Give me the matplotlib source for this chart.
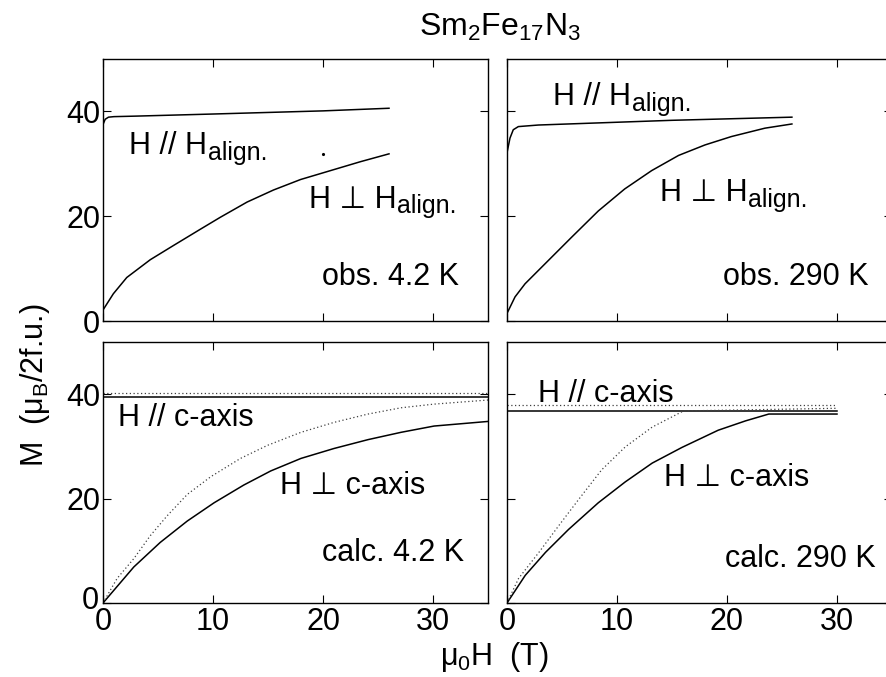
import matplotlib.pyplot as plt
from matplotlib.transforms import ScaledTranslation

plt.rcParams['font.family'] = ['Liberation Sans', 'DejaVu Sans']
plt.rcParams['mathtext.fontset'] = 'custom'
plt.rcParams['mathtext.rm'] = 'Liberation Sans'
plt.rcParams['mathtext.it'] = 'Liberation Sans:italic'

# --- values: field mu0H (T), moment M (muB/2f.u.) ---

# obs. 4.2 K
obs4_par_h = [0, 0.2, 0.5, 1.0, 3.0, 10.0, 20.0, 26.0]
obs4_par_m = [37.5, 38.5, 38.9, 39.0, 39.1, 39.5, 40.1, 40.6]
obs4_perp_h = [0, 0.94, 2.16, 4.3, 6.4, 8.84, 10.67, 13.1, 15.5, 17.96, 21.0, 23.4, 26.0]
obs4_perp_m = [2.1, 5.2, 8.3, 11.7, 14.4, 17.5, 19.8, 22.7, 25.0, 27.0, 28.9, 30.4, 31.9]
obs4_dot_h = [20.0]
obs4_dot_m = [31.8]

# obs. 290 K
obs290_par_h = [0, 0.27, 0.57, 1.03, 2.85, 15.0, 25.9]
obs290_par_m = [32.1, 34.9, 36.5, 37.1, 37.4, 38.3, 38.9]
obs290_perp_h = [0, 0.73, 1.64, 3.45, 5.88, 8.3, 10.7, 13.15, 15.6, 18.0, 20.4, 23.45, 25.9]
obs290_perp_m = [1.45, 4.6, 7.1, 10.9, 16.0, 21.0, 25.2, 28.7, 31.6, 33.6, 35.2, 36.8, 37.6]

# calc. 4.2 K (solid and dotted curves)
calc4_par_h = [0, 35]
calc4_par_m = [39.5, 39.5]
calc4_par_dot_m = [40.3, 40.3]
calc4_perp_h = [0, 2.8, 5.2, 7.66, 10.1, 12.8, 15.25, 18.0, 21.0, 24.1, 27.1, 30.1, 35.1]
calc4_perp_m = [0, 6.9, 11.6, 15.7, 19.2, 22.6, 25.3, 27.7, 29.6, 31.3, 32.7, 33.9, 34.8]
calc4_perp_dot_h = [0, 1.28, 2.8, 4.3, 5.83, 7.66, 9.8, 12.5, 14.95, 18.0, 21.0, 24.1, 27.1, 30.1, 35.1]
calc4_perp_dot_m = [0, 4.7, 8.5, 12.9, 16.7, 20.8, 24.2, 27.7, 30.2, 32.7, 34.6, 36.2, 37.4, 38.1, 38.9]

# calc. 290 K
calc290_par_h = [0, 30]
calc290_par_m = [36.8, 36.8]
calc290_par_dot_m = [37.9, 37.9]
calc290_perp_h = [0, 1.66, 3.5, 5.6, 8.3, 10.75, 13.2, 15.9, 19.2, 21.7, 23.8, 30.0]
calc290_perp_m = [0, 5.3, 9.7, 14.1, 19.2, 23.2, 26.8, 29.8, 33.1, 34.9, 36.2, 36.2]
calc290_perp_dot_h = [0, 1.05, 2.9, 4.7, 6.5, 8.6, 10.75, 13.2, 16.05, 30.0]
calc290_perp_dot_m = [0, 4.7, 9.7, 14.8, 19.8, 25.5, 29.9, 33.7, 36.8, 37.3]

x_ticks = [0, 10, 20, 30]
y_ticks = [0, 20, 40]

W, H = 887, 677
fig = plt.figure(figsize=(W / 100, H / 100), dpi=100)


def px_axes(left, top, right, bottom):
    return fig.add_axes([left / W, 1 - bottom / H, (right - left) / W, (bottom - top) / H])


ax_tl = px_axes(103, 59, 488, 321)
ax_tr = px_axes(507, 59, 892, 321)
ax_bl = px_axes(103, 342, 488, 603)
ax_br = px_axes(507, 342, 892, 603)

for ax in (ax_tl, ax_tr, ax_bl, ax_br):
    ax.set_xlim(0, 35)
    ax.set_ylim(0, 50)
    ax.set_xticks(x_ticks)
    ax.set_yticks(y_ticks)
    ax.tick_params(direction='in', top=True, right=True, length=5.5, width=0.8,
                   labelsize=22, pad=2)
    ax.tick_params(axis='x', pad=3)
    for s in ax.spines.values():
        s.set_linewidth(1.0)

for ax in (ax_tl, ax_tr):
    ax.tick_params(labelbottom=False)
for ax in (ax_tr, ax_br):
    ax.tick_params(labelleft=False)

# lift the lower-left "0" a little so it clears the x-axis "0"
zero_lbl = ax_bl.get_yticklabels()[0]
zero_lbl.set_transform(zero_lbl.get_transform() + ScaledTranslation(-1 / 72, 4 / 72, fig.dpi_scale_trans))

solid = dict(color='black', lw=1.1)
dotted = dict(color='0.25', lw=0.9, linestyle=(0, (1, 2)))
big = 22


def sub_label(ax, x, y, main, sub):
    t = ax.text(x, y, main, fontsize=big, ha='left', va='baseline')
    ax.annotate(sub, xy=(1, 0), xycoords=t, xytext=(0.5, 1), textcoords='offset points',
                fontsize=18, ha='left', va='baseline')


# obs. 4.2 K
ax_tl.plot(obs4_par_h, obs4_par_m, **solid)
ax_tl.plot(obs4_perp_h, obs4_perp_m, **solid)
ax_tl.plot(obs4_dot_h, obs4_dot_m, 'k.', ms=2.5)
sub_label(ax_tl, 2.4, 31.8, 'H // H', 'align.')
sub_label(ax_tl, 18.7, 21.6, 'H \u22a5 H', 'align.')
ax_tl.text(32.4, 6.8, 'obs. 4.2 K', fontsize=big, ha='right', va='baseline')

# obs. 290 K
ax_tr.plot(obs290_par_h, obs290_par_m, **solid)
ax_tr.plot(obs290_perp_h, obs290_perp_m, **solid)
sub_label(ax_tr, 4.2, 41.2, 'H // H', 'align.')
sub_label(ax_tr, 13.9, 22.9, 'H \u22a5 H', 'align.')
ax_tr.text(32.85, 6.8, 'obs. 290 K', fontsize=big, ha='right', va='baseline')

# calc. 4.2 K
ax_bl.plot(calc4_par_h, calc4_par_m, **solid)
ax_bl.plot(calc4_par_h, calc4_par_dot_m, **dotted)
ax_bl.plot(calc4_perp_h, calc4_perp_m, **solid)
ax_bl.plot(calc4_perp_dot_h, calc4_perp_dot_m, **dotted)
ax_bl.text(1.4, 34.0, 'H // c-axis', fontsize=big, ha='left', va='baseline')
ax_bl.text(16.1, 20.8, 'H \u22a5 c-axis', fontsize=big, ha='left', va='baseline')
ax_bl.text(32.85, 8.1, 'calc. 4.2 K', fontsize=big, ha='right', va='baseline')

# calc. 290 K
ax_br.plot(calc290_par_h, calc290_par_m, **solid)
ax_br.plot(calc290_par_h, calc290_par_dot_m, **dotted)
ax_br.plot(calc290_perp_h, calc290_perp_m, **solid)
ax_br.plot(calc290_perp_dot_h, calc290_perp_dot_m, **dotted)
ax_br.text(2.8, 38.5, 'H // c-axis', fontsize=big, ha='left', va='baseline')
ax_br.text(14.3, 22.4, 'H \u22a5 c-axis', fontsize=big, ha='left', va='baseline')
ax_br.text(33.5, 6.9, 'calc. 290 K', fontsize=big, ha='right', va='baseline')

fig.text(500 / W, 1 - 27 / H, r'Sm$_2$Fe$_{17}$N$_3$', fontsize=23, ha='center', va='center')
fig.text(494 / W, 1 - 657 / H, '\u03bc$_0$H  (T)', fontsize=22, ha='center', va='center')
fig.text(35 / W, 1 - 385 / H, 'M  (\u03bc$_{\\mathrm{B}}$/2f.u.)',
         fontsize=22, ha='center', va='center', rotation=90)

fig.savefig('out.png', dpi=100)
